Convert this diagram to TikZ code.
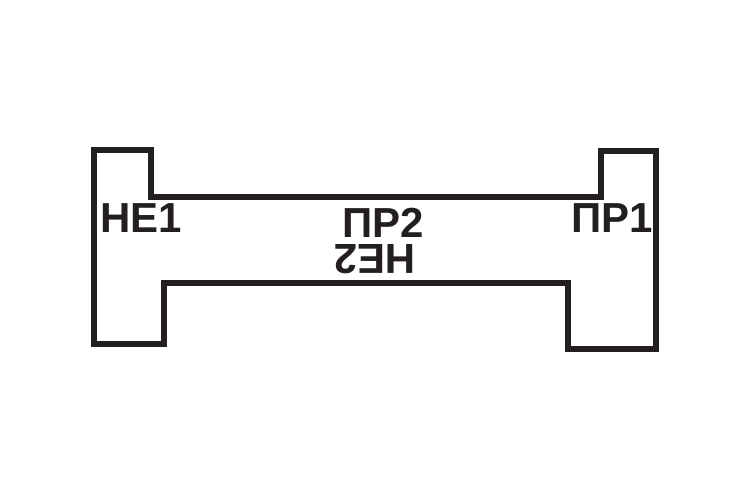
\documentclass[tikz,border=0pt]{standalone}
\usepackage{fontspec}
\setmainfont{Liberation Sans}
\usepackage{xcolor}
\definecolor{ink}{HTML}{231F20}

\tikzset{
  outline/.style={draw=ink, line width=6pt, line join=miter},
  tag/.style={inner sep=0pt, text=ink, font=\fontsize{42}{42}\selectfont\bfseries}
}

\begin{document}
\begin{tikzpicture}[x=1pt, y=-1pt]
  % Fix the frame to the page size
  \useasboundingbox (0,0) rectangle (750,500);

  % Outline of the part
  \draw[outline] (94,150) -- (151,150) -- (151,197) -- (601,197) -- (601,151)
    -- (656,151) -- (656,349) -- (568,349) -- (568,283) -- (164,283)
    -- (164,344) -- (94,344) -- cycle;

  % Labels
  \node[tag] (ne1) at (141.5,218.5) {НЕ1};
  \node[tag] (pr1) at (612,218.5) {ПР1};
  \node[tag] (pr2) at (383,222.5) {ПР2};
  \node[tag, rotate=180] (ne2) at (375,259) {НЕ2};
\end{tikzpicture}
\end{document}
